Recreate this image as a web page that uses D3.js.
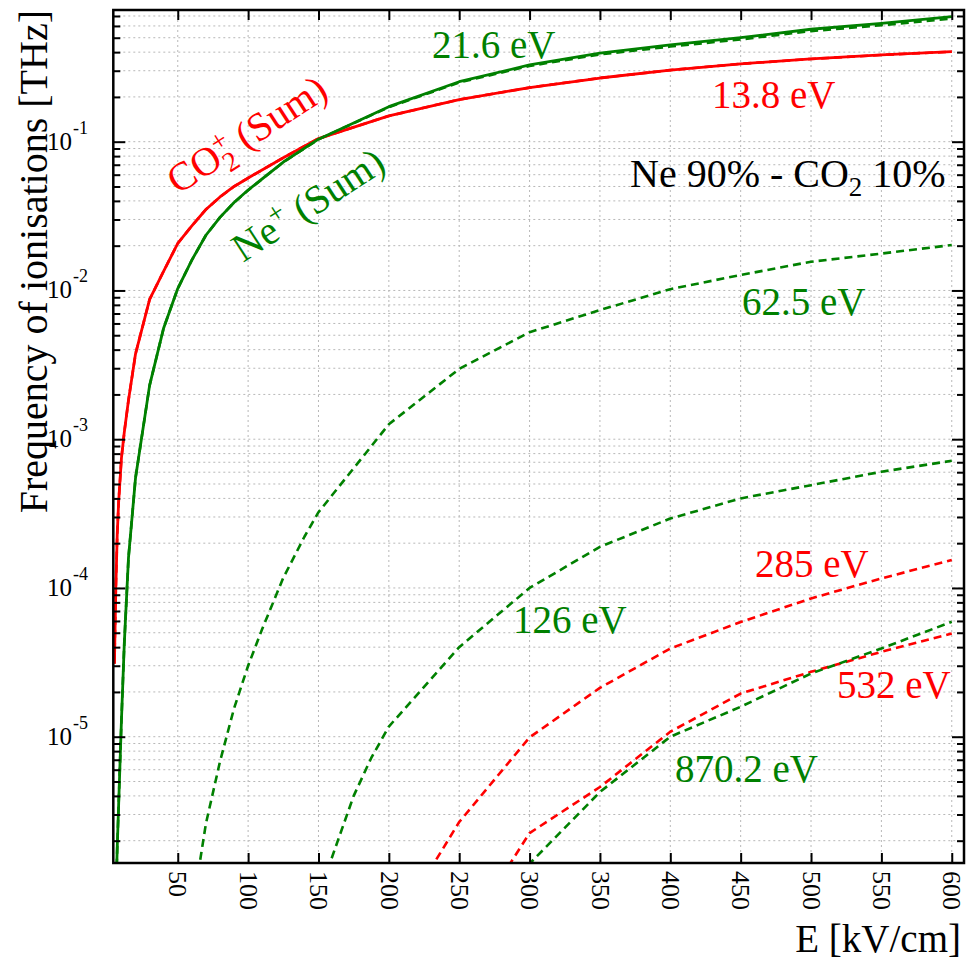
<!DOCTYPE html>
<html><head><meta charset="utf-8">
<script src="https://cdn.jsdelivr.net/npm/d3@7"></script>
<style>body{margin:0;background:#fff}</style>
</head><body><svg id="c" width="968" height="960"></svg>
<script>
// ---------- data ----------
const eSum   = [5,6,7,8,10,12,15,20,30,40,50,60,70,80,90,100,125,150,200,250,300,350,400,450,500,550,600];
const co2Sum = [3.1e-5,1.0e-4,2.3e-4,3.8e-4,7.5e-4,1.11e-3,1.83e-3,3.75e-3,8.7e-3,1.35e-2,2.07e-2,2.72e-2,3.5e-2,4.25e-2,5.0e-2,5.7e-2,7.8e-2,0.105,0.149,0.192,0.231,0.268,0.303,0.334,0.360,0.383,0.403];
const co2_138 = [3.1e-5,1.0e-4,2.3e-4,3.8e-4,7.5e-4,1.11e-3,1.83e-3,3.75e-3,8.7e-3,1.35e-2,2.07e-2,2.72e-2,3.5e-2,4.25e-2,5.0e-2,5.7e-2,7.8e-2,0.105,0.149,0.192,0.231,0.268,0.3029,0.3339,0.3599,0.3829,0.4028];
const neSum  = [4e-7,8e-7,1.8e-6,3.5e-6,1.3e-5,4.2e-5,1.6e-4,5.5e-4,2.3e-3,5.6e-3,1.03e-2,1.6e-2,2.35e-2,3.1e-2,3.9e-2,4.73e-2,7.3e-2,0.104,0.172,0.253,0.328,0.394,0.447,0.500,0.570,0.625,0.693];
const ne_216 = [4e-7,8e-7,1.8e-6,3.5e-6,1.3e-5,4.2e-5,1.6e-4,5.5e-4,2.3e-3,5.6e-3,1.03e-2,1.6e-2,2.35e-2,3.1e-2,3.9e-2,4.72e-2,7.28e-2,0.1037,0.1707,0.250,0.323,0.386,0.436,0.487,0.554,0.607,0.672];
const e625 = [60,65,70,80,90,100,110,125,140,150,200,250,300,350,400,450,500,550,600];
const ne_625 = [2.0e-7,1.3e-6,2.6e-6,6.8e-6,1.55e-5,3.0e-5,5.3e-5,1.17e-4,2.21e-4,3.23e-4,1.26e-3,2.97e-3,5.24e-3,7.38e-3,1.02e-2,1.27e-2,1.56e-2,1.77e-2,2.02e-2];
const e126 = [150,158,165,175,187.5,200,250,300,350,400,450,500,550,600];
const ne_126 = [7e-7,1.4e-6,2.16e-6,4.0e-6,7.2e-6,1.17e-5,4.0e-5,1.0e-4,1.89e-4,2.93e-4,4.0e-4,4.91e-4,6.04e-4,7.16e-4];
const e285 = [200,250,300,350,400,450,500,550,600];
const co2_285 = [4.5e-7,2.67e-6,9.9e-6,2.13e-5,3.92e-5,5.9e-5,8.5e-5,1.16e-4,1.54e-4];
const e532 = [250,300,350,400,450,500,550,600];
const co2_532 = [4.1e-7,2.25e-6,4.59e-6,1.08e-5,1.95e-5,2.73e-5,3.72e-5,4.94e-5];
const e870 = [250,300,350,400,450,500,550,600];
const ne_870 = [1e-7,1.4e-6,4.25e-6,1.0e-5,1.59e-5,2.66e-5,3.92e-5,5.92e-5];
const xTicks = [50,100,150,200,250,300,350,400,450,500,550,600];
const yMajor = [1e-5,1e-4,1e-3,1e-2,1e-1];
const yMajorExp = ["-5","-4","-3","-2","-1"];

// ---------- layout ----------
const RED = "#ff0000", GREEN = "#008000";
const FONT = "'Liberation Serif','Times New Roman',serif";
const m = {left:113.3, right:964, top:10, bottom:863};
const svg = d3.select("#c");
const x = d3.scaleLinear().domain([4.2,608.7]).range([m.left,m.right]);
const y = d3.scaleLog().domain([1.416e-6,0.768]).range([m.bottom,m.top]);

svg.append("defs").append("clipPath").attr("id","clip")
  .append("rect").attr("x",m.left).attr("y",m.top)
  .attr("width",m.right-m.left).attr("height",m.bottom-m.top);

const allY = y.ticks().filter(v=>v>=y.domain()[0] && v<=y.domain()[1]);
const yMinor = allY.filter(v=>!yMajor.some(M=>Math.abs(M-v)/v<1e-6));

// grid
const grid = svg.append("g").attr("stroke","#b8b8b8").attr("stroke-width",1).attr("stroke-dasharray","2,3");
grid.selectAll("line.v").data(xTicks).join("line").attr("class","v")
  .attr("x1",d=>x(d)).attr("x2",d=>x(d)).attr("y1",m.top).attr("y2",m.bottom);
grid.selectAll("line.h").data(allY).join("line").attr("class","h")
  .attr("x1",m.left).attr("x2",m.right).attr("y1",d=>y(d)).attr("y2",d=>y(d));

// curves
const line = d3.line().x(d=>x(d[0])).y(d=>y(d[1]));
const plot = svg.append("g").attr("clip-path","url(#clip)").attr("fill","none");
function curve(es, vs, color, dashed){
  plot.append("path").datum(es.map((e,i)=>[e,vs[i]]))
    .attr("d",line).attr("stroke",color).attr("stroke-width",dashed?2.6:2.8)
    .attr("stroke-dasharray",dashed?"8,5":null).attr("stroke-linejoin","round");
}
curve(eSum, co2_138, RED, true);
curve(eSum, ne_216, GREEN, true);
curve(e625, ne_625, GREEN, true);
curve(e126, ne_126, GREEN, true);
curve(e285, co2_285, RED, true);
curve(e532, co2_532, RED, true);
curve(e870, ne_870, GREEN, true);
curve(eSum, co2Sum, RED, false);
curve(eSum, neSum, GREEN, false);

// axes (ticks inward)
function clean(g){ g.select(".domain").remove(); g.selectAll("line").attr("stroke","#000").attr("stroke-width",2); }
svg.append("g").attr("transform",`translate(0,${m.bottom})`)
  .call(d3.axisBottom(x).tickValues(xTicks).tickSizeInner(-10).tickSizeOuter(0).tickFormat(d3.format("d")))
  .call(clean)
  .call(g=>g.selectAll("text").attr("font-family",FONT).attr("font-size",26).attr("fill","#000")
        .attr("y",0).attr("x",8).attr("dy","0.34em").attr("text-anchor","start").attr("transform","rotate(90)"));
svg.append("g").attr("transform",`translate(0,${m.top})`)
  .call(d3.axisTop(x).tickValues(xTicks).tickSizeInner(-10).tickSizeOuter(0).tickFormat(""))
  .call(clean);
svg.append("g").attr("transform",`translate(${m.left},0)`)
  .call(d3.axisLeft(y).tickValues(yMajor).tickSizeInner(-12).tickSizeOuter(0).tickFormat(""))
  .call(clean);
svg.append("g").attr("transform",`translate(${m.left},0)`)
  .call(d3.axisLeft(y).tickValues(yMinor).tickSizeInner(-7).tickSizeOuter(0).tickFormat(""))
  .call(clean);
svg.append("g").attr("transform",`translate(${m.right},0)`)
  .call(d3.axisRight(y).tickValues(yMajor).tickSizeInner(-12).tickSizeOuter(0).tickFormat(""))
  .call(clean);
svg.append("g").attr("transform",`translate(${m.right},0)`)
  .call(d3.axisRight(y).tickValues(yMinor).tickSizeInner(-7).tickSizeOuter(0).tickFormat(""))
  .call(clean);

// frame
svg.append("rect").attr("x",m.left).attr("y",m.top).attr("width",m.right-m.left).attr("height",m.bottom-m.top)
  .attr("fill","none").attr("stroke","#000").attr("stroke-width",2.5);

// y tick labels 10^k
const yl = svg.append("g").attr("font-family",FONT).attr("fill","#000");
yMajor.forEach((v,i)=>{
  yl.append("text").attr("x",72).attr("y",y(v)+8).attr("text-anchor","end").attr("font-size",25).text("10");
  yl.append("text").attr("x",73).attr("y",y(v)-8).attr("text-anchor","start").attr("font-size",18).text(yMajorExp[i]);
});

// axis titles
svg.append("text").attr("font-family",FONT).attr("font-size",39).attr("fill","#000")
  .attr("text-anchor","end").attr("x",961).attr("y",952).text("E [kV/cm]");
svg.append("text").attr("font-family",FONT).attr("font-size",40).attr("fill","#000")
  .attr("text-anchor","end").attr("transform","translate(47,10) rotate(-90)").text("Frequency of ionisations [THz]");

// annotations
const ann = svg.append("g").attr("font-family",FONT).attr("font-size",39);
function lab(t,xx,yy,c){ ann.append("text").attr("x",xx).attr("y",yy).attr("fill",c).text(t); }
lab("21.6 eV",432,58,GREEN);
lab("13.8 eV",712,108,RED);
lab("62.5 eV",742,315,GREEN);
lab("126 eV",513,633,GREEN);
lab("285 eV",755,577,RED);
lab("532 eV",837,698,RED);
lab("870.2 eV",675,782,GREEN);

const mix = ann.append("text").attr("x",630).attr("y",187).attr("fill","#000").attr("font-size",40);
mix.append("tspan").text("Ne 90% - CO");
mix.append("tspan").attr("font-size",27).attr("dy",9).text("2");
mix.append("tspan").attr("dy",-9).text(" 10%");

const co = ann.append("text").attr("transform","translate(178,195) rotate(-33)").attr("fill",RED).attr("font-size",40);
co.append("tspan").text("CO");
co.append("tspan").attr("font-size",28).attr("dy",10).text("2");
co.append("tspan").attr("font-size",28).attr("dx",-14).attr("dy",-24).text("+");
co.append("tspan").attr("dy",14).text(" (Sum)");

const ne = ann.append("text").attr("transform","translate(243,263) rotate(-33)").attr("fill",GREEN).attr("font-size",40);
ne.append("tspan").text("Ne");
ne.append("tspan").attr("font-size",28).attr("dy",-15).text("+");
ne.append("tspan").attr("dy",15).text(" (Sum)");
</script></body></html>
